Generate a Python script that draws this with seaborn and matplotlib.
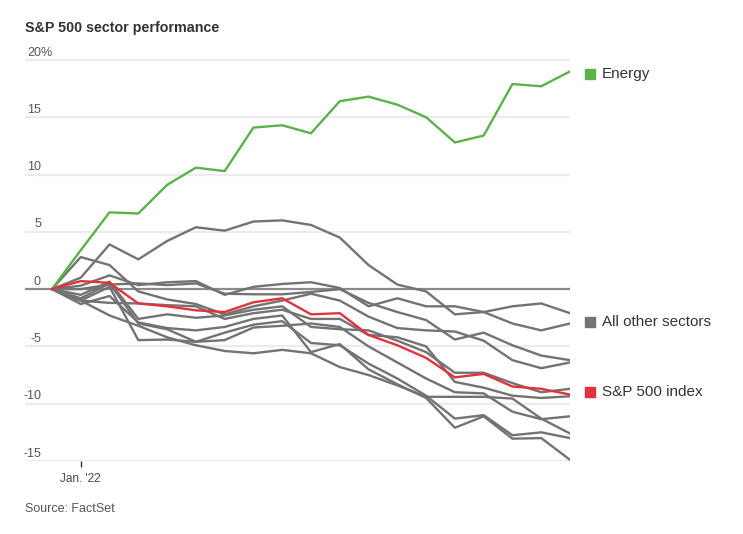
import pandas as pd
import matplotlib.pyplot as plt
import matplotlib.patches as mpatches
import seaborn as sns

# trading days, Dec 31 2021 through Jan 27 2022
trading_days = ["2021-12-31", "2022-01-03", "2022-01-04", "2022-01-05", "2022-01-06",
                "2022-01-07", "2022-01-10", "2022-01-11", "2022-01-12", "2022-01-13",
                "2022-01-14", "2022-01-18", "2022-01-19", "2022-01-20", "2022-01-21",
                "2022-01-24", "2022-01-25", "2022-01-26", "2022-01-27"]

# cumulative % change since Dec 31
energy = [0, 3.4, 6.7, 6.6, 9.1, 10.6, 10.3, 14.1, 14.3, 13.6, 16.4, 16.8, 16.1,
          15.0, 12.8, 13.4, 17.9, 17.7, 19.0]
sp500 = [0, 0.7, 0.55, -1.25, -1.5, -1.85, -2.0, -1.15, -0.8, -2.2, -2.1, -4.0, -4.9,
         -6.0, -7.7, -7.4, -8.5, -8.7, -9.2]

financials = [0, 1.0, 3.9, 2.6, 4.2, 5.4, 5.1, 5.9, 6.0, 5.6, 4.5, 2.1, 0.4, -0.2,
              -2.2, -2.0, -1.5, -1.25, -2.1]
staples = [0, 0.3, 1.2, 0.35, 0.6, 0.7, -0.5, 0.2, 0.45, 0.6, 0.1, -1.5, -0.8, -1.5,
           -1.5, -2.0, -3.0, -3.6, -3.0]
utilities = [0, 0.0, 0.4, 0.5, 0.35, 0.5, -0.4, -0.45, -0.45, -0.25, 0.0, -1.2, -2.0,
             -2.7, -4.4, -3.8, -4.9, -5.8, -6.2]
industrials = [0, 2.8, 2.1, -0.2, -0.9, -1.3, -2.2, -1.5, -1.0, -0.4, -1.0, -2.4, -3.4,
               -3.6, -3.7, -4.5, -6.2, -6.9, -6.4]
materials = [0, -0.5, 0.65, -2.6, -2.2, -2.5, -2.3, -1.8, -1.5, -3.3, -3.5, -3.6, -4.5,
             -5.5, -7.3, -7.3, -8.2, -9.0, -8.7]
health_care = [0, -1.0, -1.2, -1.25, -1.4, -1.5, -2.6, -2.1, -1.8, -2.6, -2.6, -4.0,
               -4.2, -5.0, -8.1, -8.6, -9.3, -9.5, -9.35]
comm_services = [0, -1.0, 0.2, -4.45, -4.4, -4.6, -4.45, -3.35, -3.2, -3.0, -3.3, -5.0,
                 -6.4, -7.8, -9.0, -9.1, -10.7, -11.35, -11.1]
real_estate = [0, -1.0, -2.3, -3.2, -4.2, -4.9, -5.4, -5.6, -5.3, -5.6, -6.8, -7.5,
               -8.4, -9.4, -9.4, -9.4, -9.55, -11.3, -12.6]
tech = [0, -0.8, 0.5, -3.0, -3.5, -4.6, -3.8, -3.1, -2.8, -4.7, -4.9, -6.5, -7.8, -9.3,
        -11.3, -11.0, -12.75, -12.5, -13.0]
discretionary = [0, -1.3, -0.6, -2.9, -3.4, -3.6, -3.3, -2.6, -2.3, -5.5, -4.8, -7.0,
                 -8.3, -9.5, -12.1, -11.1, -13.05, -13.0, -14.9]

other_names = ["Financials", "Consumer Staples", "Utilities", "Industrials", "Materials",
               "Health Care", "Communication Services", "Real Estate",
               "Information Technology", "Consumer Discretionary"]
other_values = [financials, staples, utilities, industrials, materials, health_care,
                comm_services, real_estate, tech, discretionary]

y_ticks = [20, 15, 10, 5, 0, -5, -10, -15]

GREEN = "#5bb14b"
GRAY = "#737373"
RED = "#e2333c"
TEXT = "#333333"

W, H = 743, 534


def fx(px):
    return px / W


def fy(py):
    return 1 - py / H


def build_frame():
    rows = []
    for name, vals in zip(other_names, other_values):
        for i, v in enumerate(vals):
            rows.append({"day": i, "sector": name, "change": v})
    for i, v in enumerate(energy):
        rows.append({"day": i, "sector": "Energy", "change": v})
    for i, v in enumerate(sp500):
        rows.append({"day": i, "sector": "S&P 500 index", "change": v})
    return pd.DataFrame(rows)


def main():
    df = build_frame()

    sns.set_theme(style="white")
    plt.rcParams["font.family"] = ["Liberation Sans Narrow", "Liberation Sans", "DejaVu Sans"]

    fig = plt.figure(figsize=(W / 100, H / 100), dpi=100)
    # axes spans gridline area: x 25..570 px, y 48.5..461 px
    ax = fig.add_axes([fx(25), fy(461), fx(570) - fx(25), (461 - 48.5) / H])

    palette = {name: GRAY for name in other_names}
    palette["Energy"] = GREEN
    palette["S&P 500 index"] = RED
    hue_order = other_names + ["Energy", "S&P 500 index"]

    sns.lineplot(data=df, x="day", y="change", hue="sector", hue_order=hue_order,
                 palette=palette, linewidth=1.7, legend=False, ax=ax, zorder=3)

    ax.set_xlim(-27 / 28.8, len(trading_days) - 1)
    ax.set_ylim(-15, 21)

    for v in y_ticks:
        if v == 0:
            ax.axhline(0, color="#8a8a8a", lw=1.6, zorder=2)
        else:
            ax.axhline(v, color="#ececec", lw=1.6, zorder=1)
        if v == 20:
            ax.text(2 / 545, v + 0.65, "20%", transform=ax.get_yaxis_transform(),
                    ha="left", va="center", fontsize=9, color="#555555")
        else:
            ax.text(16 / 545, v + 0.65, str(v), transform=ax.get_yaxis_transform(),
                    ha="right", va="center", fontsize=9, color="#555555")

    ax.set_xticks([1])
    ax.set_xticklabels(["Jan. '22"])
    ax.tick_params(axis="x", direction="out", length=4, width=1, color="#333333",
                   pad=5, labelsize=8.5, labelcolor="#444444", bottom=True)
    ax.tick_params(axis="y", left=False, labelleft=False)
    ax.set_yticks([])
    ax.set_xlabel("")
    ax.set_ylabel("")
    for s in ax.spines.values():
        s.set_visible(False)

    # title and source
    fig.text(fx(25), fy(28), "S&P 500 sector performance", ha="left", va="center",
             fontsize=10.3, fontweight="bold", color=TEXT)
    fig.text(fx(25), fy(509), "Source: FactSet", ha="left", va="center",
             fontsize=9, color="#555555")

    # legend labels at line ends
    legend_items = [("Energy", GREEN, 74), ("All other sectors", GRAY, 322),
                    ("S&P 500 index", RED, 392)]
    for label, color, py in legend_items:
        fig.patches.append(mpatches.Rectangle((fx(585), fy(py + 5)), 10 / W, 10 / H,
                                              transform=fig.transFigure, color=color))
        fig.text(fx(602), fy(py), label, ha="left", va="center", fontsize=11,
                 color=TEXT)

    fig.savefig("out.png", dpi=100, facecolor="white")
    plt.close(fig)


if __name__ == "__main__":
    main()
